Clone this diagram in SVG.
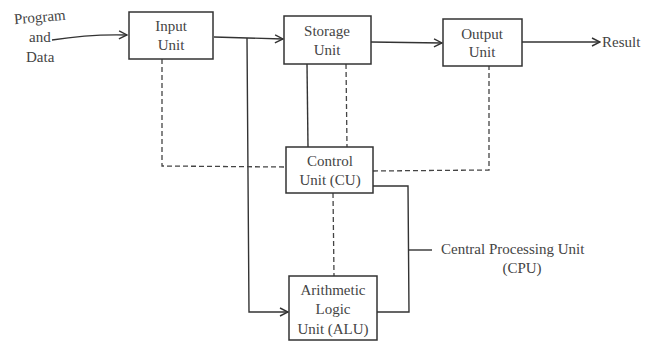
<svg xmlns="http://www.w3.org/2000/svg" width="667" height="342" viewBox="0 0 667 342">
<style>
.box{fill:#fff;stroke:#333;stroke-width:1.5}
.ln{fill:none;stroke:#333;stroke-width:1.4}
.ds{fill:none;stroke:#444;stroke-width:1.3;stroke-dasharray:5,3}
text{font-family:'Liberation Serif','Times New Roman',Times,'DejaVu Serif',serif;font-size:15px;fill:#444}
.c{text-anchor:middle}
</style>
<defs>
<marker id="ah" markerWidth="10" markerHeight="10" refX="9" refY="5" orient="auto" markerUnits="userSpaceOnUse">
<path d="M1,1 L9,5 L1,9" fill="none" stroke="#333" stroke-width="1.4"/>
</marker>
</defs>
<rect width="667" height="342" fill="#fff"/>
<g id="connectors">
<path class="ln" d="M52,40 Q90,34 127,35" marker-end="url(#ah)"/>
<path class="ln" d="M214,37 L283,39" marker-end="url(#ah)"/>
<path class="ln" d="M371,42 L442,43" marker-end="url(#ah)"/>
<path class="ln" d="M522,42 L600,42" marker-end="url(#ah)"/>
<path class="ln" d="M247,38 L249,312 L288,312" marker-end="url(#ah)"/>
<path class="ln" d="M307,64 L308,147"/>
<path class="ds" d="M346,64 L347,147"/>
<path class="ds" d="M162,59 L162,166 L286,167"/>
<path class="ds" d="M373,171 L489,170 L489,66"/>
<path class="ds" d="M333,193 L334,276"/>
<path class="ln" d="M373,186 L408,186 L409,312 L377,312"/>
<path class="ln" d="M409,250 L432,250"/>
</g>
<g id="input">
<rect class="box" x="129" y="12" width="84" height="47"/>
<text class="c" x="171" y="31">Input</text>
<text class="c" x="171" y="50">Unit</text>
</g>
<g id="program">
<text x="14" y="22" transform="rotate(-5 40 18)">Program</text>
<text x="29" y="42">and</text>
<text x="26" y="62">Data</text>
</g>
<g id="storage">
<rect class="box" x="284" y="16" width="87" height="48"/>
<text class="c" x="327" y="36">Storage</text>
<text class="c" x="327" y="55">Unit</text>
</g>
<g id="output">
<rect class="box" x="443" y="19" width="79" height="47"/>
<text class="c" x="482" y="39">Output</text>
<text class="c" x="482" y="57">Unit</text>
</g>
<g id="result">
<text x="602" y="47">Result</text>
</g>
<g id="control">
<rect class="box" x="286" y="147" width="87" height="46"/>
<text class="c" x="330" y="166">Control</text>
<text class="c" x="330" y="185">Unit (CU)</text>
</g>
<g id="alu">
<rect class="box" x="289" y="276" width="88" height="64"/>
<text class="c" x="333" y="295">Arithmetic</text>
<text class="c" x="333" y="314">Logic</text>
<text class="c" x="333" y="334">Unit (ALU)</text>
</g>
<g id="cpu">
<text x="441" y="254">Central Processing Unit</text>
<text class="c" x="522" y="273">(CPU)</text>
</g>
</svg>
